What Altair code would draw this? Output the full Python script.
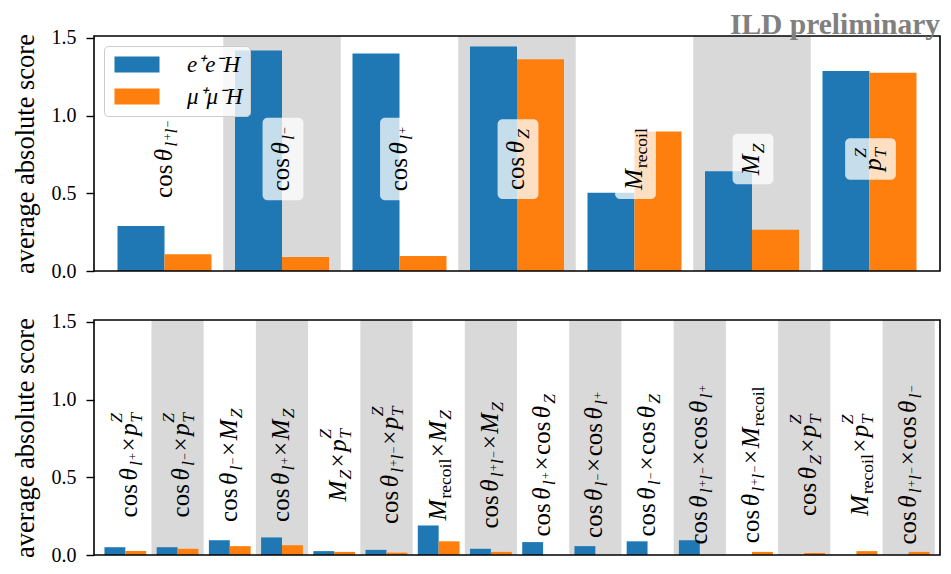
import re
import altair as alt
import pandas as pd

# ---------------- data ----------------
series = ["e⁺e⁻H", "μ⁺μ⁻H"]
colors = ["#1f77b4", "#ff7f0e"]

top_labels = [r"\cos\theta_{l^+l^-}", r"\cos\theta_{l^-}", r"\cos\theta_{l^+}",
              r"\cos\theta_Z", r"M_\mathrm{recoil}", r"M_Z", r"p_T^Z"]
top_ee = [0.290, 1.419, 1.400, 1.444, 0.503, 0.641, 1.287]
top_mm = [0.108, 0.090, 0.096, 1.362, 0.898, 0.265, 1.275]

bottom_labels = [r"\cos\theta_{l^+}\times p_T^Z", r"\cos\theta_{l^-}\times p_T^Z",
                 r"\cos\theta_{l^-}\times M_Z", r"\cos\theta_{l^+}\times M_Z",
                 r"M_Z\times p_T^Z", r"\cos\theta_{l^+l^-}\times p_T^Z",
                 r"M_\mathrm{recoil}\times M_Z", r"\cos\theta_{l^+l^-}\times M_Z",
                 r"\cos\theta_{l^+}\times\cos\theta_Z", r"\cos\theta_{l^-}\times\cos\theta_{l^+}",
                 r"\cos\theta_{l^-}\times\cos\theta_Z", r"\cos\theta_{l^+l^-}\times\cos\theta_{l^+}",
                 r"\cos\theta_{l^+l^-}\times M_\mathrm{recoil}", r"\cos\theta_Z\times p_T^Z",
                 r"M_\mathrm{recoil}\times p_T^Z", r"\cos\theta_{l^+l^-}\times\cos\theta_{l^-}"]
bottom_ee = [0.050, 0.050, 0.095, 0.113, 0.025, 0.033, 0.190, 0.040,
             0.083, 0.057, 0.088, 0.095, 0.0, 0.0, 0.0, 0.0]
bottom_mm = [0.025, 0.040, 0.057, 0.063, 0.020, 0.015, 0.088, 0.020,
             0.0, 0.0, 0.0, 0.0, 0.020, 0.013, 0.025, 0.020]

y_ticks = [0.0, 0.5, 1.0, 1.5]
title_text = ["ILD preliminary"]

# ---------------- style ----------------
FONT = "Liberation Serif"
W, H = 846, 235
YMAX = 1.512
LABEL_SIZE = 25

ADV_R = {"c": .444, "o": .5, "s": .389, "r": .333, "e": .444, "i": .278, "l": .278,
         "×": .564, "+": .564, "−": .564}
ADV_I = {"θ": .58, "l": .36, "M": .88, "Z": .60, "p": .52, "T": .58}


# --------- tiny mathtext-like layout (rotated labels) ---------
def tokenize(s):
    return re.findall(r"\\[a-zA-Z]+|[_^{}]|.", s)


def parse_base(t, i, path):
    tok = t[i]
    i += 1
    if tok == r"\cos":
        return [dict(text="cos", it=False, path=path), dict(gap=0.14, path=path)], i
    if tok == r"\theta":
        return [dict(text="θ", it=True, path=path)], i
    if tok == r"\times":
        return [dict(gap=0.06, path=path), dict(text="×", it=False, path=path),
                dict(gap=0.06, path=path)], i
    if tok == r"\mathrm":
        j = t.index("}", i)
        return [dict(text="".join(t[i + 1:j]), it=False, path=path)], j + 1
    if tok == "{":
        atoms, i = parse_group(t, i, path)
        return atoms, i + 1
    if tok == "+":
        return [dict(text="+", it=False, path=path)], i
    if tok == "-":
        return [dict(text="−", it=False, path=path)], i
    if tok == " ":
        return [], i
    return [dict(text=tok, it=True, path=path)], i


def parse_group(t, i, path):
    atoms = []
    while i < len(t) and t[i] != "}":
        base, i = parse_base(t, i, path)
        atoms += base
        first = True
        while i < len(t) and t[i] in ("_", "^"):
            op = t[i]
            sub, i = parse_base(t, i + 1, path + (op,))
            if not first and sub:
                sub[0]["stack"] = True
            atoms += sub
            first = False
    return atoms, i


def scale_of(path):
    return 0.7 ** len(path)


def shift_of(path):
    s = 0.0
    for d, op in enumerate(path):
        if op == "_":
            s += 0.2 if d == 0 else 0.1
        else:
            s += -0.6 if d == 0 else -0.2
    return s


def asc_of(text):
    if any(ch in "θlMZTbdfhkti" for ch in text):
        return 0.70
    if text in ("+", "×"):
        return 0.55
    if text == "−":
        return 0.32
    return 0.47


def desc_of(text):
    return 0.22 if any(ch in "pqgyμ" for ch in text) else 0.02


def layout(label):
    atoms, _ = parse_group(tokenize(label), 0, ())
    cur, prev_pos, out = 0.0, 0.0, []
    top, bot = 0.0, 0.0
    for a in atoms:
        sc = scale_of(a["path"])
        if "gap" in a:
            cur += a["gap"] * sc
            continue
        table = ADV_I if a["it"] else ADV_R
        w = sum(table.get(ch, 0.5) for ch in a["text"]) * sc
        pos = prev_pos if a.get("stack") else cur
        sh = shift_of(a["path"])
        out.append(dict(text=a["text"], it=a["it"], pos=pos, shift=sh, scale=sc))
        top = min(top, sh - sc * asc_of(a["text"]))
        bot = max(bot, sh + sc * desc_of(a["text"]))
        prev_pos = pos
        cur = max(cur, pos + w)
    return out, cur, top, bot


def label_tables(labels, y_center, ppx, ppy, size, pad):
    rows, boxes = [], []
    for k, lab in enumerate(labels):
        atoms, L, top, bot = layout(lab)
        base = -(top + bot) / 2 + 0.04
        for a in atoms:
            along = (a["pos"] - L / 2) * size
            across = (base + a["shift"]) * size
            rows.append(dict(x=k + across / ppx, y=y_center + along / ppy,
                             text=a["text"], it=a["it"], size=size * a["scale"]))
        boxes.append(dict(x=k + ((base + top) * size - pad) / ppx,
                          x2=k + ((base + bot) * size + pad) / ppx,
                          y=y_center - (L / 2 * size + pad) / ppy,
                          y2=y_center + (L / 2 * size + pad) / ppy))
    return pd.DataFrame(rows), pd.DataFrame(boxes)


yaxis = alt.Axis(values=y_ticks, format=".1f", title="average absolute score", grid=False,
                 domain=False, ticks=True, tickSize=8, tickWidth=1.4, tickColor="black",
                 labelFont=FONT, labelFontSize=20, labelColor="black", labelPadding=10,
                 titleFont=FONT, titleFontSize=26.5, titleFontWeight="normal",
                 titleColor="black", titlePadding=12)


def panel(labels, ee, mm, y_center, with_boxes, legend, with_title=False):
    n = len(labels)
    xmin, xmax = -0.6, n - 0.4
    ppx = W / (xmax - xmin)
    ppy = H / YMAX
    xs = alt.Scale(domain=[xmin, xmax], nice=False, zero=False)
    ys = alt.Scale(domain=[0, YMAX], nice=False, zero=False)

    def X(f):
        return alt.X(f, scale=xs, axis=None)

    def Y(f):
        return alt.Y(f, scale=ys, axis=yaxis)

    bands = pd.DataFrame([dict(x=i - 0.5, x2=i + 0.5, y0=0.0, y1=YMAX)
                          for i in range(n) if i % 2 == 1])
    band_layer = alt.Chart(bands).mark_rect(color="#d9d9d9").encode(
        x=X("x:Q"), x2="x2", y=Y("y0:Q"), y2="y1")

    bar_rows = []
    for k in range(n):
        bar_rows.append(dict(s=series[0], x=k - 0.4, x2=k, v=ee[k], z=0.0))
        bar_rows.append(dict(s=series[1], x=k, x2=k + 0.4, v=mm[k], z=0.0))
    bars = alt.Chart(pd.DataFrame(bar_rows)).mark_rect().encode(
        x=X("x:Q"), x2="x2", y=Y("v:Q"), y2="z",
        color=alt.Color("s:N", scale=alt.Scale(domain=series, range=colors),
                        sort=series, legend=legend))

    text_df, box_df = label_tables(labels, y_center, ppx, ppy, LABEL_SIZE, 9)
    layers = [band_layer, bars]
    if with_boxes:
        layers.append(alt.Chart(box_df).mark_rect(cornerRadius=5, color="white",
                                                  opacity=0.75).encode(
            x=X("x:Q"), x2="x2", y=Y("y:Q"), y2="y2"))
    for it in (False, True):
        sub = text_df[text_df["it"] == it]
        layers.append(alt.Chart(sub).mark_text(
            angle=270, align="left", baseline="alphabetic", font=FONT, color="black",
            fontStyle="italic" if it else "normal").encode(
            x=X("x:Q"), y=Y("y:Q"), text="text:N", size=alt.Size("size:Q", scale=None)))

    frame = pd.DataFrame([dict(x=xmin, x2=xmax, y0=0.0, y1=YMAX)])
    layers.append(alt.Chart(frame).mark_rect(fillOpacity=0, stroke="black",
                                             strokeWidth=1.6).encode(
        x=X("x:Q"), x2="x2", y=Y("y0:Q"), y2="y1"))

    if with_title:
        layers.append(alt.Chart(pd.DataFrame({"t": title_text})).mark_text(
            align="right", baseline="alphabetic", font=FONT, fontSize=29.5,
            fontWeight="bold", color="#808080", dy=-2).encode(
            x=alt.value(W), y=alt.value(0), text="t:N"))

    return alt.layer(*layers).properties(width=W, height=H)


legend = alt.Legend(orient="none", legendX=10, legendY=10, title=None,
                    symbolType="M-1,-1L4.625,-1L4.625,1L-1,1Z", symbolSize=256,
                    symbolStrokeWidth=0, symbolOpacity=1,
                    labelFont=FONT, labelFontStyle="italic", labelFontSize=23,
                    labelColor="black", labelOffset=53, labelLimit=0, rowPadding=8,
                    padding=7, fillColor="rgba(255,255,255,0.8)", strokeColor="#cccccc",
                    cornerRadius=4)

top = panel(top_labels, top_ee, top_mm, 0.72, True, legend, with_title=True)
bottom = panel(bottom_labels, bottom_ee, bottom_mm, 0.58, False, None)

chart = alt.vconcat(top, bottom, spacing=49, bounds="flush").resolve_scale(
    color="independent").properties(
    padding={"top": 2, "left": 3, "right": 0, "bottom": 1}).configure_view(stroke=None)

chart.save("out.html", embed_options={"renderer": "svg", "actions": False})
